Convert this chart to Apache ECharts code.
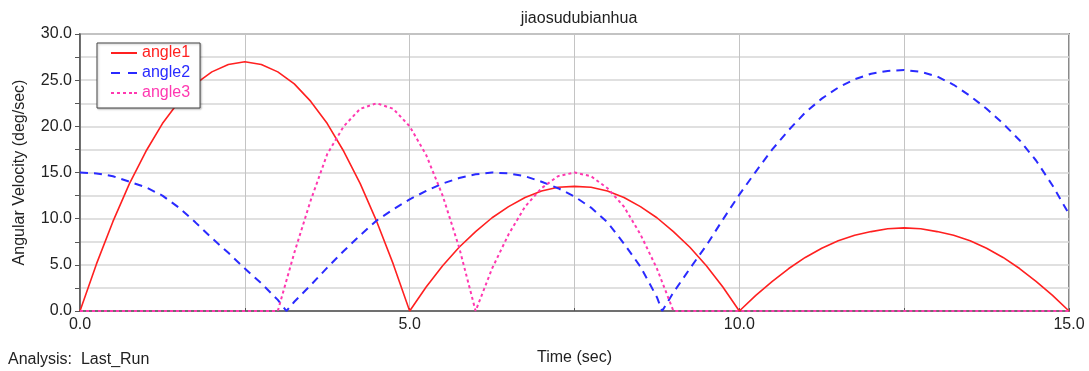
<!DOCTYPE html>
<html>
<head>
<meta charset="utf-8">
<title>jiaosudubianhua</title>
<script src="https://cdn.jsdelivr.net/npm/echarts@6/dist/echarts.min.js"></script>
<style>
  html, body { margin: 0; padding: 0; background: #fff; }
  #chart { width: 1089px; height: 371px; }
</style>
</head>
<body>
<div id="chart"></div>
<script>
// time axis (sec), 0.25 s steps
const time = [
  0, 0.25, 0.5, 0.75, 1, 1.25, 1.5, 1.75, 2, 2.25, 2.5, 2.75,
  3, 3.25, 3.5, 3.75, 4, 4.25, 4.5, 4.75, 5, 5.25, 5.5, 5.75,
  6, 6.25, 6.5, 6.75, 7, 7.25, 7.5, 7.75, 8, 8.25, 8.5, 8.75,
  9, 9.25, 9.5, 9.75, 10, 10.25, 10.5, 10.75, 11, 11.25, 11.5, 11.75,
  12, 12.25, 12.5, 12.75, 13, 13.25, 13.5, 13.75, 14, 14.25, 14.5, 14.75, 15
]
// angle1 (deg/sec), on time[]
const angle1 = [
  0, 5.1, 9.7, 13.8, 17.3, 20.3, 22.7, 24.6, 25.9, 26.7, 27.0, 26.7,
  25.9, 24.6, 22.7, 20.3, 17.3, 13.8, 9.7, 5.1, 0, 2.6, 4.9, 6.9,
  8.6, 10.1, 11.3, 12.3, 13.0, 13.4, 13.5, 13.4, 13.0, 12.3, 11.3, 10.1,
  8.6, 6.9, 4.9, 2.6, 0, 1.7, 3.2, 4.6, 5.8, 6.8, 7.6, 8.2,
  8.6, 8.9, 9.0, 8.9, 8.6, 8.2, 7.6, 6.8, 5.8, 4.6, 3.2, 1.7, 0
]
// angle3 (deg/sec), on time[]
const angle3 = [
  0, 0, 0, 0, 0, 0, 0, 0, 0, 0, 0, 0,
  0, 6.3, 12.0, 17.0, 20.0, 21.9, 22.5, 21.9, 20.0, 16.9, 12.5, 6.9,
  0, 4.6, 8.3, 11.3, 13.3, 14.6, 15.0, 14.6, 13.3, 11.3, 8.3, 4.6,
  0, 0, 0, 0, 0, 0, 0, 0, 0, 0, 0, 0,
  0, 0, 0, 0, 0, 0, 0, 0, 0, 0, 0, 0, 0
]
// angle2 has its own sample times (zero crossings at 3.13 and 8.83)
const time2 = [
  0, 0.25, 0.5, 0.75, 1, 1.25, 1.5, 1.75, 2, 2.25, 2.5, 2.75, 3, 3.13,
  3.25, 3.5, 3.75, 4, 4.25, 4.5, 4.75, 5, 5.25, 5.5, 5.75, 6, 6.25, 6.5,
  6.75, 7, 7.25, 7.5, 7.75, 8, 8.25, 8.5, 8.75, 8.83,
  9, 9.25, 9.5, 9.75, 10, 10.25, 10.5, 10.75, 11, 11.25, 11.5, 11.75,
  12, 12.25, 12.5, 12.75, 13, 13.25, 13.5, 13.75, 14, 14.25, 14.5, 14.75, 15
]
const angle2 = [
  15.0, 14.9, 14.6, 14.0, 13.4, 12.5, 11.2, 9.6, 7.9, 6.3, 4.6, 3.0, 1.2, 0,
  1.0, 2.8, 4.7, 6.5, 8.2, 9.8, 11.0, 12.1, 13.0, 13.8, 14.4, 14.8, 15.0, 14.9,
  14.6, 14.0, 13.3, 12.4, 11.2, 9.6, 7.3, 4.8, 1.5, 0,
  2.0, 4.6, 7.1, 9.9, 12.6, 15.1, 17.5, 19.6, 21.5, 23.0, 24.2, 25.1,
  25.7, 26.0, 26.1, 25.9, 25.4, 24.5, 23.3, 21.9, 20.3, 18.5, 16.3, 13.6, 10.5
]

const names = ['angle1', 'angle2', 'angle3']
const colors = ['#ff2020', '#2a2aff', '#ff38b0']
// legend samples: solid, dashed, dotted
const icons = [
  'rect',
  'path://M0,0h9v2h-9z M17,0h9v2h-9z',
  'path://M0,0h3v2h-3z M6,0h3v2h-3z M12,0h3v2h-3z M18,0h3v2h-3z M23,0h3v2h-3z',
]

const pairs = (xs, ys) => xs.map((x, i) => [x, ys[i]])
const FONT = 'Liberation Sans, Arial, sans-serif'

const chart = echarts.init(document.getElementById('chart'))
chart.setOption({
  animation: false,
  textStyle: { fontFamily: FONT },
  title: {
    text: 'jiaosudubianhua',
    left: 574, top: 6, textAlign: 'center',
    textStyle: { fontSize: 16, fontWeight: 'normal', color: '#222', fontFamily: FONT },
  },
  grid: {
    left: 80, right: 20, top: 34, bottom: 58,
    show: true, borderColor: '#8a8a8a', borderWidth: 2,
  },
  legend: {
    orient: 'vertical', left: 97, top: 43,
    padding: [0, 10, 5, 14],
    itemWidth: 26, itemHeight: 2, itemGap: 0,
    backgroundColor: '#fff', borderColor: '#444', borderWidth: 1,
    shadowColor: 'rgba(0,0,0,0.25)', shadowBlur: 2, shadowOffsetX: 1, shadowOffsetY: 1,
    textStyle: { fontSize: 16, lineHeight: 20, fontFamily: FONT },
    data: names.map((n, i) => ({
      name: n, icon: icons[i],
      itemStyle: { color: colors[i], borderWidth: 0 },
      textStyle: { color: colors[i] },
    })),
  },
  xAxis: {
    type: 'value', min: 0, max: 15, interval: 2.5,
    name: 'Time (sec)', nameLocation: 'middle', nameGap: 39,
    nameTextStyle: { fontSize: 16, color: '#222', fontFamily: FONT },
    axisLine: { lineStyle: { color: '#555', width: 1.5 } },
    axisTick: { inside: true, length: 3, lineStyle: { color: '#555' } },
    axisLabel: {
      fontSize: 16, color: '#222', margin: 6, fontFamily: FONT,
      formatter: v => (v % 5 === 0 ? v.toFixed(1) : ''),
    },
    splitLine: { lineStyle: { color: '#c4c4c4', width: 1 } },
  },
  yAxis: {
    type: 'value', min: 0, max: 30, interval: 2.5,
    name: 'Angular Velocity (deg/sec)', nameLocation: 'middle', nameGap: 52,
    nameTextStyle: { fontSize: 16, color: '#222', fontFamily: FONT },
    axisLine: { show: true, lineStyle: { color: '#555', width: 1.5 } },
    axisTick: { show: true, length: 5, lineStyle: { color: '#555' } },
    axisLabel: {
      fontSize: 16, color: '#222', margin: 8, fontFamily: FONT,
      formatter: v => (v % 5 === 0 ? v.toFixed(1) : ''),
    },
    splitLine: { lineStyle: { color: '#d6d6d6', width: 1.5 } },
  },
  graphic: [{
    type: 'text', left: 8, top: 352,
    style: { text: 'Analysis:  Last_Run', fontSize: 16, fill: '#222', fontFamily: FONT },
  }],
  series: [
    { name: 'angle1', type: 'line', data: pairs(time, angle1), symbol: 'none',
      lineStyle: { width: 1.6, color: colors[0] }, itemStyle: { color: colors[0] } },
    { name: 'angle2', type: 'line', data: pairs(time2, angle2), symbol: 'none',
      lineStyle: { width: 2, color: colors[1], type: [8, 6] }, itemStyle: { color: colors[1] } },
    { name: 'angle3', type: 'line', data: pairs(time, angle3), symbol: 'none',
      lineStyle: { width: 2, color: colors[2], type: [3, 3] }, itemStyle: { color: colors[2] } },
  ],
})
</script>
</body>
</html>
